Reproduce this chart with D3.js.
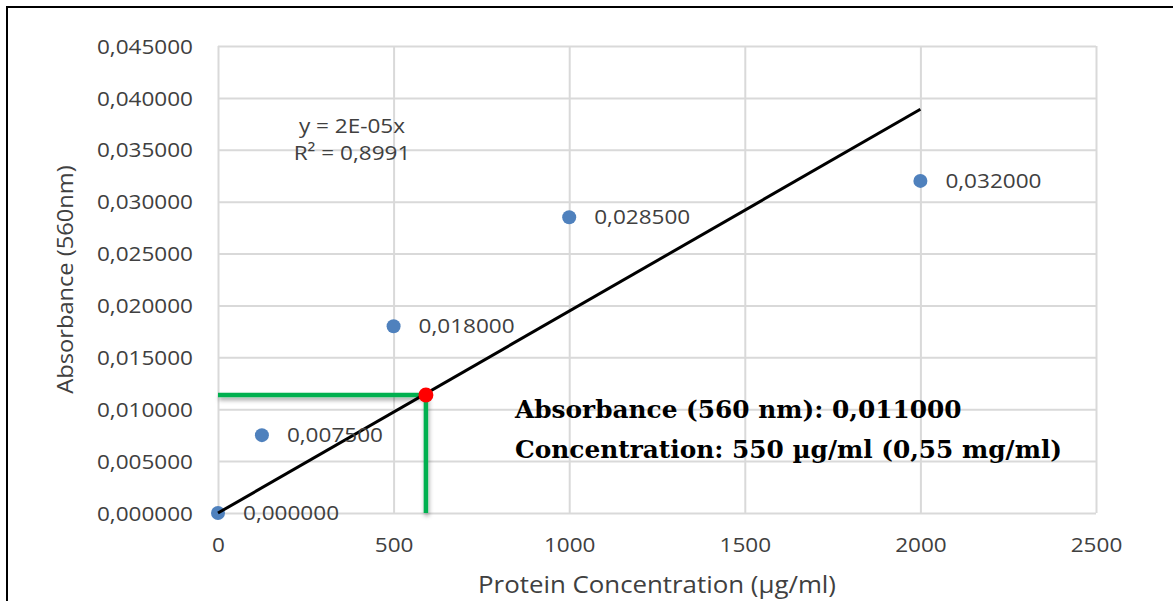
<!DOCTYPE html>
<html><head><meta charset="utf-8">
<script src="https://cdn.jsdelivr.net/npm/d3@7"></script>
<style>
body{margin:0;background:#fff}
svg{display:block}
</style>
</head><body>
<svg id="chart" width="1173" height="601"></svg>
<script>
// ---- data ----
const concentrations = [0, 125, 500, 1000, 2000];
const absorbances = [0.0, 0.0075, 0.018, 0.0285, 0.032];
const pointLabels = ["0,000000", "0,007500", "0,018000", "0,028500", "0,032000"];
const xTicks = [0, 500, 1000, 1500, 2000, 2500];
const yTicks = [0, 0.005, 0.010, 0.015, 0.020, 0.025, 0.030, 0.035, 0.040, 0.045];
const trendX = [0, 2000];
const trendY = [0, 0.0389];
const sampleX = [592];
const sampleY = [0.01137];
const equationLines = ["y = 2E-05x", "R\u00B2 = 0,8991"];
const annotationLines = ["Absorbance (560 nm): 0,011000", "Concentration: 550 \u00B5g/ml (0,55 mg/ml)"];
const xTitle = "Protein Concentration (\u00B5g/ml)";
const yTitle = "Absorbance (560nm)";

// ---- layout ----
const W = 1173, H = 601;
const pL = 218, pR = 1096, pT = 46, pB = 513;
const SX = 1.1; // horizontal stretch of the sans text
const FONT = "'Open Sans', sans-serif";
const TXT = "#404040";

const svg = d3.select("#chart");
svg.append("rect").attr("width", W).attr("height", H).attr("fill", "#fff");

const defs = svg.append("defs");
const f = defs.append("filter").attr("id", "shadow").attr("filterUnits", "userSpaceOnUse")
  .attr("x", 0).attr("y", 0).attr("width", W).attr("height", H);
f.append("feDropShadow").attr("dx", 1).attr("dy", 3).attr("stdDeviation", 2.2)
  .attr("flood-color", "#000").attr("flood-opacity", 0.35);

// frame (top and left)
svg.append("path").attr("d", `M7,${H} L7,7 L${W},7`).attr("fill", "none")
  .attr("stroke", "#000").attr("stroke-width", 2);

const x = d3.scaleLinear().domain([0, 2500]).range([pL, pR]);
const y = d3.scaleLinear().domain([0, 0.045]).range([pB, pT]);
const fmtY = v => d3.format(".6f")(v).replace(".", ",");

// x axis with vertical gridlines
const gx = svg.append("g").attr("transform", `translate(0,${pB})`)
  .call(d3.axisBottom(x).tickValues(xTicks).tickSize(-(pB - pT)).tickFormat(d3.format("d")));
gx.select(".domain").remove();
gx.selectAll(".tick line").attr("stroke", "#d9d9d9").attr("stroke-width", 2);
gx.selectAll(".tick text")
  .attr("y", 39).attr("dy", 0)
  .attr("transform", `scale(${SX},1)`)
  .attr("fill", TXT).style("font-family", FONT).style("font-size", "20.5px");

// y axis with horizontal gridlines
const gy = svg.append("g").attr("transform", `translate(${pL},0)`)
  .call(d3.axisLeft(y).tickValues(yTicks).tickSize(-(pR - pL)).tickFormat(fmtY));
gy.select(".domain").remove();
gy.selectAll(".tick line").attr("stroke", "#d9d9d9").attr("stroke-width", 2);
gy.selectAll(".tick text")
  .attr("x", -25 / SX).attr("dy", "0.35em")
  .attr("transform", `scale(${SX},1)`)
  .attr("fill", TXT).style("font-family", FONT).style("font-size", "20.5px");

// green guide lines with shadow
const guide = svg.append("g").attr("filter", "url(#shadow)");
guide.append("line")
  .attr("x1", x(0)).attr("x2", x(sampleX[0])).attr("y1", y(sampleY[0])).attr("y2", y(sampleY[0]))
  .attr("stroke", "#00b050").attr("stroke-width", 4.5);
guide.append("line")
  .attr("x1", x(sampleX[0])).attr("x2", x(sampleX[0])).attr("y1", y(sampleY[0])).attr("y2", y(0))
  .attr("stroke", "#00b050").attr("stroke-width", 4.5);

// data points
svg.append("g").selectAll("circle").data(concentrations).join("circle")
  .attr("cx", d => x(d)).attr("cy", (d, i) => y(absorbances[i])).attr("r", 7)
  .attr("fill", "#4f81bd");

// trendline
svg.append("path")
  .datum(trendX.map((d, i) => [d, trendY[i]]))
  .attr("d", d3.line().x(d => x(d[0])).y(d => y(d[1])))
  .attr("fill", "none").attr("stroke", "#000").attr("stroke-width", 3);

// data labels
svg.append("g").selectAll("text").data(concentrations).join("text")
  .attr("transform", (d, i) => `translate(${x(d) + 25},${y(absorbances[i])}) scale(${SX},1)`)
  .attr("dy", "0.35em")
  .attr("fill", TXT).style("font-family", FONT).style("font-size", "20.5px")
  .text((d, i) => pointLabels[i]);

// red sample point
svg.append("circle").attr("cx", x(sampleX[0])).attr("cy", y(sampleY[0])).attr("r", 7.5).attr("fill", "#ff0000");

// equation
svg.append("g").selectAll("text").data(equationLines).join("text")
  .attr("transform", (d, i) => `translate(352,${133 + i * 27}) scale(${SX},1)`)
  .attr("text-anchor", "middle")
  .attr("fill", TXT).style("font-family", FONT).style("font-size", "20.5px")
  .text(d => d);

// annotation
svg.append("g").selectAll("text").data(annotationLines).join("text")
  .attr("x", 515).attr("y", (d, i) => 418 + i * 40)
  .attr("fill", "#000").style("font-family", "'DejaVu Serif', serif").style("font-weight", "bold")
  .style("font-size", "24.8px")
  .text(d => d);

// axis titles
svg.append("text")
  .attr("transform", `translate(${(pL + pR) / 2},593) scale(${SX},1)`)
  .attr("text-anchor", "middle")
  .attr("fill", TXT).style("font-family", FONT).style("font-size", "23.5px")
  .text(xTitle);
svg.append("text")
  .attr("transform", `translate(73,${(pT + pB) / 2}) rotate(-90) scale(${SX},1)`)
  .attr("text-anchor", "middle")
  .attr("fill", TXT).style("font-family", FONT).style("font-size", "21.5px")
  .text(yTitle);
</script>
</body></html>
